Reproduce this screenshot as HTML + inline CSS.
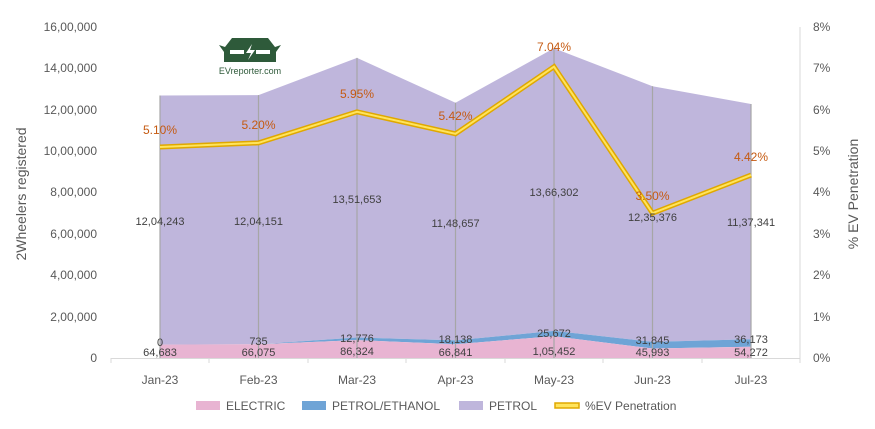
<!DOCTYPE html>
<html><head><style>body{margin:0;background:#fff}svg{display:block;font-family:"Liberation Sans",sans-serif}</style></head><body>
<svg width="875" height="429" viewBox="0 0 875 429">
<g font-size="12" fill="#595959" text-anchor="end">
<text x="97" y="362">0</text><text x="97" y="321">2,00,000</text><text x="97" y="279">4,00,000</text><text x="97" y="238">6,00,000</text><text x="97" y="196">8,00,000</text><text x="97" y="155">10,00,000</text><text x="97" y="114">12,00,000</text><text x="97" y="72">14,00,000</text><text x="97" y="31">16,00,000</text>
</g>
<g font-size="12" fill="#595959">
<text x="813" y="362">0%</text><text x="813" y="321">1%</text><text x="813" y="279">2%</text><text x="813" y="238">3%</text><text x="813" y="196">4%</text><text x="813" y="155">5%</text><text x="813" y="114">6%</text><text x="813" y="72">7%</text><text x="813" y="31">8%</text>
</g>
<text transform="translate(26,194) rotate(-90)" font-size="14" fill="#595959" text-anchor="middle">2Wheelers registered</text>
<text transform="translate(858,194) rotate(-90)" font-size="14" fill="#595959" text-anchor="middle">% EV Penetration</text>
<polygon fill="#bfb6dc" points="160,95.5 258.5,95.1 357,57.9 455.5,102.8 554,48.2 652.5,86.3 751,104 751,339.3 652.5,341.9 554,330.9 455.5,340.4 357,337.5 258.5,344.2 160,344.6"/>
<polygon fill="#6fa4d6" points="160,344.6 258.5,344.2 357,337.5 455.5,340.4 554,330.9 652.5,341.9 751,339.3 751,346.8 652.5,348.5 554,336.2 455.5,344.2 357,340.1 258.5,344.3 160,344.6"/>
<polygon fill="#e8b4d2" points="160,344.6 258.5,344.3 357,340.1 455.5,344.2 554,336.2 652.5,348.5 751,346.8 751,358 160,358"/>
<g stroke="#a6a6a6" stroke-width="1.2">
<line x1="160" y1="95.5" x2="160" y2="358"/><line x1="258.5" y1="95.1" x2="258.5" y2="358"/><line x1="357" y1="57.9" x2="357" y2="358"/><line x1="455.5" y1="102.8" x2="455.5" y2="358"/><line x1="554" y1="48.2" x2="554" y2="358"/><line x1="652.5" y1="86.3" x2="652.5" y2="358"/><line x1="751" y1="104" x2="751" y2="358"/>
</g>
<g stroke="#d9d9d9"><line x1="111" y1="358.5" x2="800" y2="358.5"/><line x1="111" y1="358" x2="111" y2="363"/><line x1="209" y1="358" x2="209" y2="363"/><line x1="308" y1="358" x2="308" y2="363"/><line x1="406" y1="358" x2="406" y2="363"/><line x1="505" y1="358" x2="505" y2="363"/><line x1="603" y1="358" x2="603" y2="363"/><line x1="702" y1="358" x2="702" y2="363"/><line x1="800" y1="358" x2="800" y2="363"/><line x1="800" y1="27" x2="800" y2="358"/></g>
<polyline fill="none" stroke="#e0a800" stroke-width="5" points="160,147 258.5,142.9 357,111.8 455.5,133.8 554,66.7 652.5,213.2 751,175.1"/>
<polyline fill="none" stroke="#ffe45c" stroke-width="2" points="160,147 258.5,142.9 357,111.8 455.5,133.8 554,66.7 652.5,213.2 751,175.1"/>
<g font-size="12" fill="#c55a11" text-anchor="middle">
<text x="160" y="134">5.10%</text><text x="258.5" y="129">5.20%</text><text x="357" y="98">5.95%</text><text x="455.5" y="120">5.42%</text><text x="554" y="51">7.04%</text><text x="652.5" y="200">3.50%</text><text x="751" y="161">4.42%</text>
</g>
<g font-size="11" fill="#404040" text-anchor="middle">
<text x="160" y="225">12,04,243</text><text x="258.5" y="225">12,04,151</text><text x="357" y="203">13,51,653</text><text x="455.5" y="227">11,48,657</text><text x="554" y="196">13,66,302</text><text x="652.5" y="221">12,35,376</text><text x="751" y="226">11,37,341</text>
<text x="160" y="346">0</text><text x="258.5" y="345">735</text><text x="357" y="342">12,776</text><text x="455.5" y="343">18,138</text><text x="554" y="337">25,672</text><text x="652.5" y="344">31,845</text><text x="751" y="343">36,173</text>
<text x="160" y="356">64,683</text><text x="258.5" y="356">66,075</text><text x="357" y="355">86,324</text><text x="455.5" y="356">66,841</text><text x="554" y="355">1,05,452</text><text x="652.5" y="356">45,993</text><text x="751" y="356">54,272</text>
</g>
<g font-size="12" fill="#595959" text-anchor="middle">
<text x="160" y="384">Jan-23</text><text x="258.5" y="384">Feb-23</text><text x="357" y="384">Mar-23</text><text x="455.5" y="384">Apr-23</text><text x="554" y="384">May-23</text><text x="652.5" y="384">Jun-23</text><text x="751" y="384">Jul-23</text>
</g>
<g font-size="12" fill="#595959">
<rect x="196" y="401" width="24" height="9" fill="#e8b4d2"/><text x="226" y="410">ELECTRIC</text>
<rect x="302" y="401" width="24" height="9" fill="#6fa4d6"/><text x="332" y="410">PETROL/ETHANOL</text>
<rect x="459" y="401" width="24" height="9" fill="#bfb6dc"/><text x="489" y="410">PETROL</text>
<rect x="555" y="403" width="24" height="5" fill="#ffe45c" stroke="#e0a800" stroke-width="1.5"/><text x="585" y="410">%EV Penetration</text>
</g>
<g>
<path d="M225,47 L232,38 L268,38 L275,47 L281,45 L276,52 L276,62 L224,62 L224,52 L219,45 Z" fill="#2e5a3a"/>
<rect x="230" y="50" width="14" height="4" fill="#fff"/><rect x="256" y="50" width="14" height="4" fill="#fff"/>
<path d="M252,44 L246,53 L251,53 L248,60 L255,50 L250,50 Z" fill="#fff"/>
<text x="250" y="74" font-size="9" fill="#2e5a3a" text-anchor="middle">EVreporter.com</text>
</g>
</svg>
</body></html>
